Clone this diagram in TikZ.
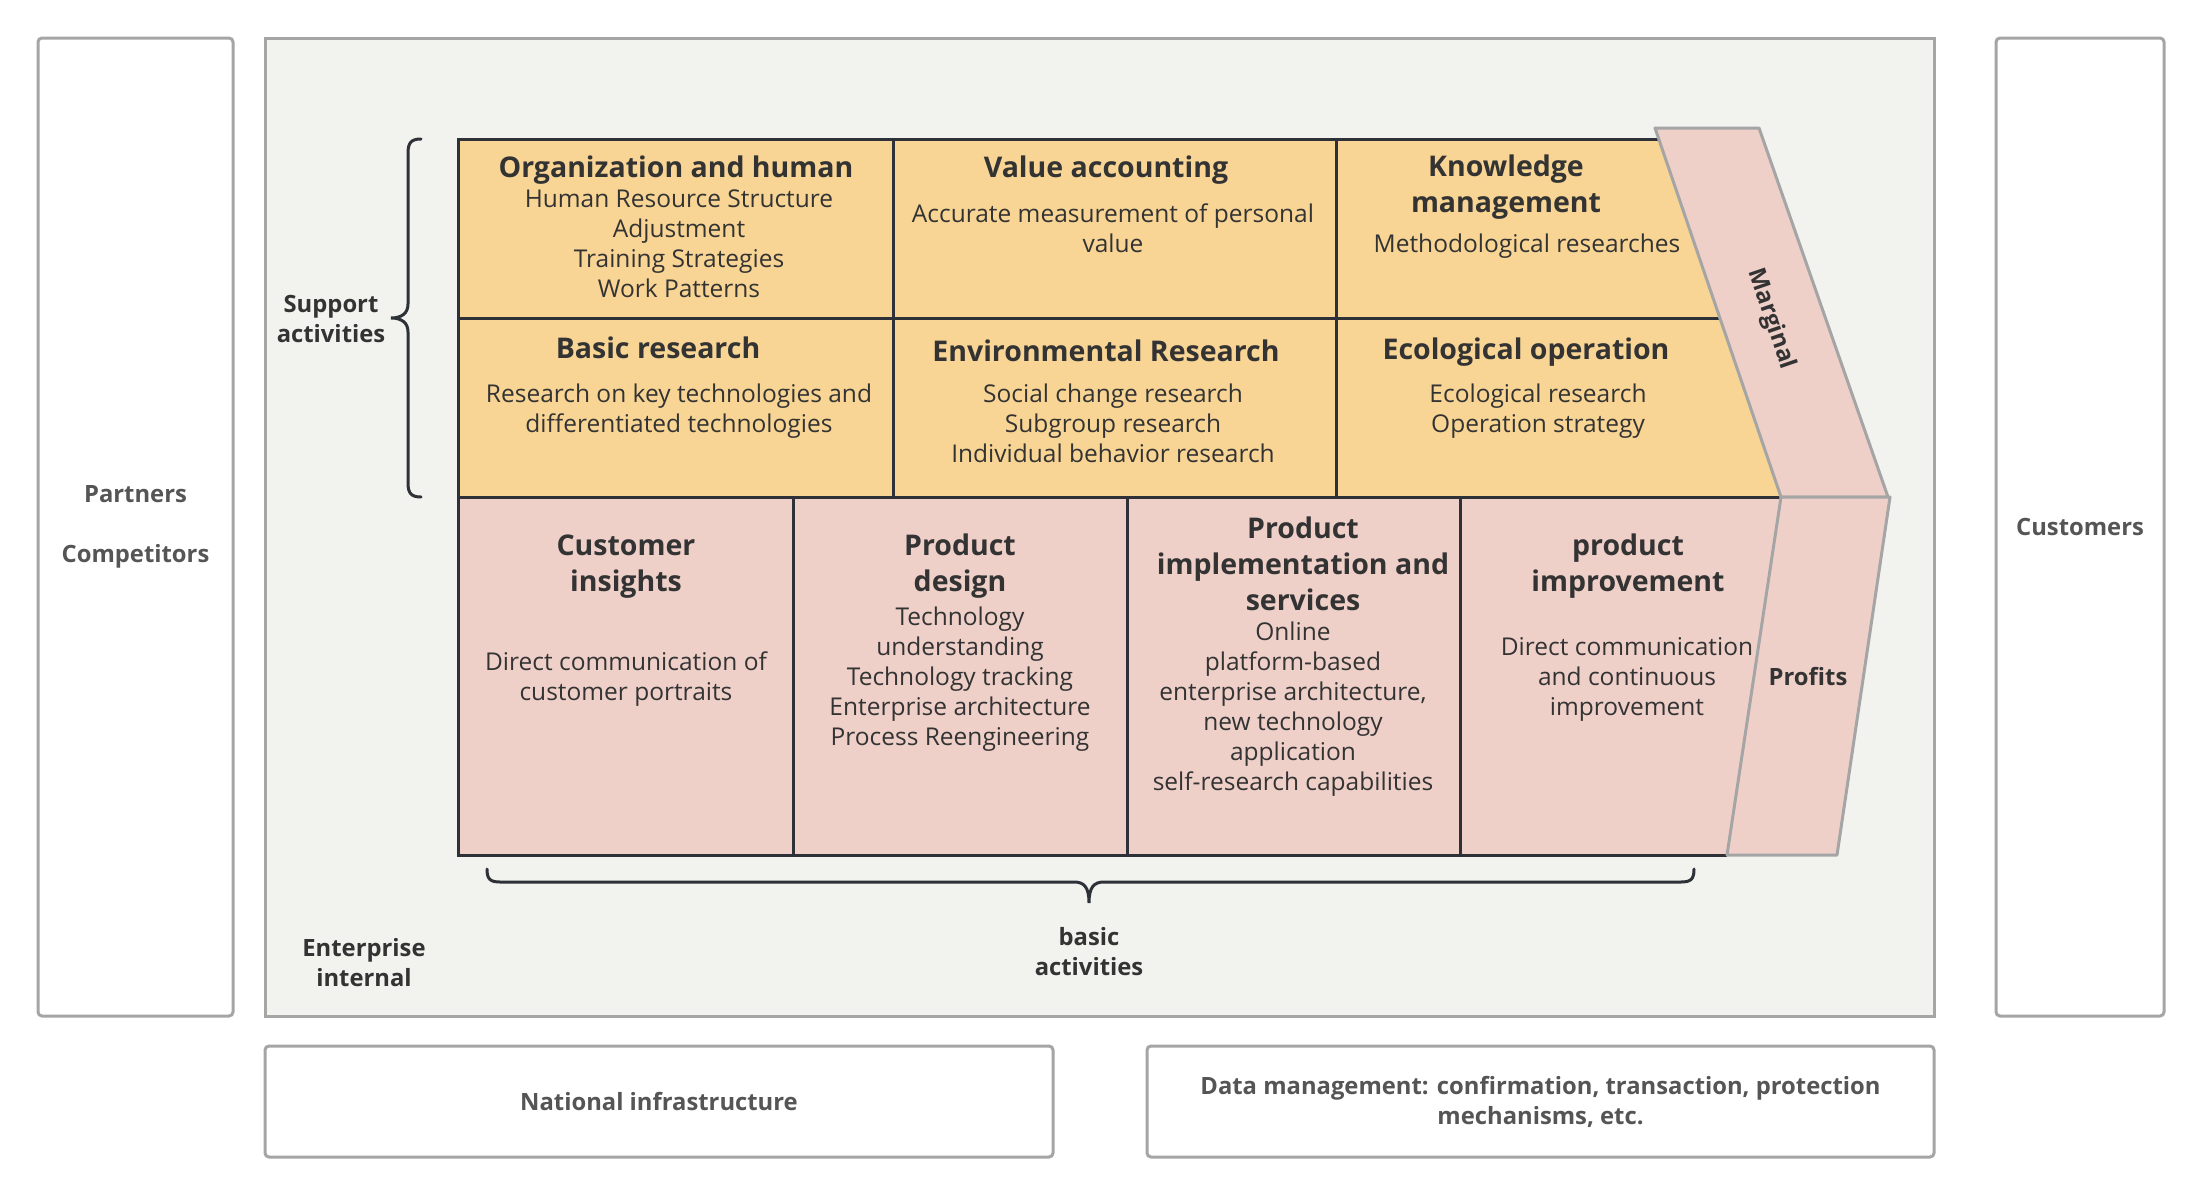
\documentclass[tikz,border=0pt]{standalone}
\usepackage{fontspec}
\setmainfont{Open Sans}
\usepackage{xcolor}
\usetikzlibrary{positioning}
\definecolor{entbg}{HTML}{F2F2EE}
\definecolor{supyel}{HTML}{F8D594}
\definecolor{prmpink}{HTML}{EFD0C9}
\definecolor{gridcol}{HTML}{2E3238}
\definecolor{boxln}{HTML}{A5A5A5}
\definecolor{txtdk}{HTML}{333333}
\definecolor{txtgr}{HTML}{555555}
\tikzset{
  ttl/.style={font=\fontsize{28.5}{36}\selectfont\bfseries,text=txtdk,align=center,inner sep=0pt},
  txt/.style={font=\fontsize{24.5}{30}\selectfont,text=txtdk,align=center,inner sep=0pt},
  lbl/.style={font=\fontsize{23.8}{30}\selectfont\bfseries,text=txtdk,align=center,inner sep=0pt},
  gbox/.style={draw=boxln,line width=3pt,rounded corners=4pt,fill=white,align=center,font=\fontsize{23.8}{30}\selectfont\bfseries,text=txtgr},
  band/.style={fill=prmpink,draw=boxln,line width=3pt,line join=round},
  gline/.style={draw=gridcol,line width=3pt},
  brc/.style={draw=gridcol,line width=3pt,line cap=round}
}
\begin{document}
\begin{tikzpicture}[x=1pt,y=-1pt]
  \useasboundingbox[fill=white] (0,0) rectangle (2201,1194);
  %% outer frames
  \node[gbox,minimum width=195pt,minimum height=978pt] (part) at (135.5,527) {Partners\\[30pt]Competitors};
  \node[gbox,rounded corners=0pt,fill=entbg,minimum width=1669pt,minimum height=978pt] (ent) at (1099.5,527) {};
  \node[gbox,minimum width=168pt,minimum height=978pt] (cust) at (2080,527) {Customers};
  \node[gbox,minimum width=788pt,minimum height=111pt] (natinf) at (659,1101.5) {National infrastructure};
  \node[gbox,minimum width=787pt,minimum height=111pt] (datmgt) at (1540.5,1101.5) {Data management: confirmation, transaction, protection\\mechanisms, etc.};

  %% value chain grid
  \fill[supyel] (458,139) -- (1659,139) -- (1781,497) -- (458,497) -- cycle;
  \fill[prmpink] (458,497) -- (1781,497) -- (1727,855) -- (458,855) -- cycle;
  \draw[gline] (1659,139) -- (458,139) -- (458,855) -- (1727,855);
  \draw[gline] (458,318) -- (1720,318);
  \draw[gline] (458,497) -- (1781,497);
  \draw[gline] (893,139) -- (893,497);
  \draw[gline] (1336,139) -- (1336,497);
  \draw[gline] (793,497) -- (793,855);
  \draw[gline] (1127,497) -- (1127,855);
  \draw[gline] (1460,497) -- (1460,855);
  \draw[band] (1655,128) -- (1759,128) -- (1888,497) -- (1781,497) -- cycle;
  \draw[band] (1781,497) -- (1890,497) -- (1837,855) -- (1727,855) -- cycle;

  %% support activities
  \node[ttl] (orgT) at (676,170) {Organization and human};
  \node[txt] (orgB) at (679,244) {Human Resource Structure\\Adjustment\\Training Strategies\\Work Patterns};
  \node[ttl] (valT) at (1106,170) {Value accounting};
  \node[txt] (valB) at (1113,228) {Accurate measurement of personal\\value};
  \node[ttl] (kmT) at (1506,187) {Knowledge\\management};
  \node[txt] (kmB) at (1527,246) {Methodological researches};
  \node[ttl] (basT) at (658,348) {Basic research};
  \node[txt] (basB) at (679,411) {Research on key technologies and\\differentiated technologies};
  \node[ttl] (envT) at (1106,351) {Environmental Research};
  \node[txt] (envB) at (1113,423) {Social change research\\Subgroup research\\Individual behavior research};
  \node[ttl] (ecoT) at (1526,352) {Ecological operation};
  \node[txt] (ecoB) at (1538,411) {Ecological research\\Operation strategy};

  %% primary activities
  \node[ttl] (insT) at (626,567) {Customer\\insights};
  \node[txt] (insB) at (626,679) {Direct communication of\\customer portraits};
  \node[ttl] (desT) at (960,566) {Product\\design};
  \node[txt] (desB) at (960,679) {Technology\\understanding\\Technology tracking\\Enterprise architecture\\Process Reengineering};
  \node[ttl] (impT) at (1303,564) {Product\\implementation and\\services};
  \node[txt] (impB) at (1293,709) {Online\\platform-based\\enterprise architecture,\\new technology\\application\\self-research capabilities};
  \node[ttl] (prvT) at (1628,566) {product\\improvement};
  \node[txt] (prvB) at (1627,679) {Direct communication\\and continuous\\improvement};
  \node[lbl] (marg) at (1771,319) [rotate=-71] {Marginal};
  \node[lbl] (prof) at (1808,677) {Profits};

  %% braces and side labels
  \draw[brc] (421,139) .. controls (411,139) and (408,143) .. (408,153) -- (408,304)
    .. controls (408,313) and (402,318) .. (391,318)
    .. controls (402,318) and (408,323) .. (408,332) -- (408,483)
    .. controls (408,493) and (411,497) .. (421,497);
  \node[lbl] (supl) at (331,319) {Support\\activities};
  \draw[brc] (487,869) .. controls (487,879) and (490,882) .. (500,882) -- (1074,882)
    .. controls (1084,882) and (1089,887) .. (1089,903)
    .. controls (1089,887) and (1094,882) .. (1104,882) -- (1681,882)
    .. controls (1691,882) and (1694,879) .. (1694,869);
  \node[lbl] (basl) at (1089,952) {basic\\activities};
  \node[lbl] (entl) at (364,963) {Enterprise\\internal};
\end{tikzpicture}
\end{document}
